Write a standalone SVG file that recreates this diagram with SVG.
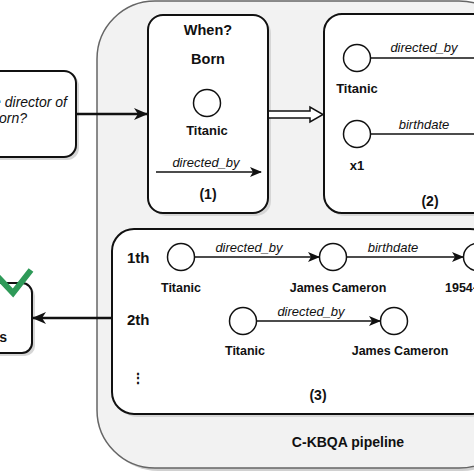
<svg xmlns="http://www.w3.org/2000/svg" width="474" height="474" viewBox="0 0 474 474">
<defs>
<style>
.b{font-family:"Liberation Sans",Arial,sans-serif;font-weight:bold;fill:#111;}
.i{font-family:"Liberation Sans",Arial,sans-serif;font-style:italic;fill:#111;}
.box{fill:#fff;stroke:#111;stroke-width:2;}
.sh{fill:#d6d6d6;}
.node{fill:#fff;stroke:#111;stroke-width:1.5;}
.edge{stroke:#111;stroke-width:1.5;fill:none;}
</style>
<marker id="ah" viewBox="0 0 12 10" refX="11" refY="5" markerWidth="12" markerHeight="10" markerUnits="userSpaceOnUse" orient="auto">
<path d="M0,0 L12,5 L0,10 L3,5 Z" fill="#111"/>
</marker>
<marker id="ahb" viewBox="0 0 14 12" refX="13" refY="6" markerWidth="14" markerHeight="12" markerUnits="userSpaceOnUse" orient="auto">
<path d="M0,0 L14,6 L0,12 L4,6 Z" fill="#111"/>
</marker>
</defs>
<rect width="474" height="474" fill="#fff"/>

<g id="pipeline">
<rect x="100" y="4" width="420" height="467" rx="58" fill="#d0d0d0"/>
<rect x="97" y="1" width="420" height="467" rx="58" fill="#f2f2f2" stroke="#666" stroke-width="1.5"/>
<text class="b" x="348" y="447" font-size="14" text-anchor="middle">C-KBQA pipeline</text>
</g>

<g id="question">
<rect class="sh" x="-17" y="74" width="96" height="86" rx="12"/>
<rect class="box" x="-20" y="71" width="96" height="86" rx="12"/>
<text class="i" x="67" y="107" font-size="14" text-anchor="end">the director of</text>
<text class="i" x="27" y="123" font-size="14" text-anchor="end">Titanic born?</text>
</g>

<g id="answer">
<rect class="sh" x="-37" y="286" width="72" height="70" rx="10"/>
<rect class="box" x="-40" y="283" width="72" height="70" rx="10"/>
<text class="b" x="7" y="342" font-size="14" text-anchor="end">s</text>
<path d="M-2,277 L13,293 L31,270" fill="none" stroke="#2e9a58" stroke-width="6" stroke-linejoin="miter"/>
</g>

<g id="box1">
<rect class="sh" x="151" y="18" width="120" height="198" rx="15"/>
<rect class="box" x="148" y="15" width="120" height="198" rx="15"/>
<text class="b" x="208" y="35" font-size="14.5" text-anchor="middle">When?</text>
<text class="b" x="208" y="64" font-size="14.5" text-anchor="middle">Born</text>
<circle class="node" cx="207" cy="103" r="13.5"/>
<text class="b" x="207" y="135" font-size="13" text-anchor="middle">Titanic</text>
<text class="i" x="206" y="167" font-size="13" text-anchor="middle">directed_by</text>
<line class="edge" x1="156" y1="172" x2="261" y2="172" marker-end="url(#ah)"/>
<text class="b" x="208" y="199" font-size="14" text-anchor="middle">(1)</text>
</g>

<g id="box2">
<rect class="sh" x="327" y="17" width="180" height="199" rx="18"/>
<rect class="box" x="324" y="14" width="180" height="199" rx="18"/>
<circle class="node" cx="357" cy="58" r="13.5"/>
<line class="edge" x1="370" y1="58" x2="480" y2="58"/>
<text class="i" x="424" y="52" font-size="13" text-anchor="middle">directed_by</text>
<text class="b" x="357" y="93" font-size="13" text-anchor="middle">Titanic</text>
<circle class="node" cx="357" cy="134" r="13.5"/>
<line class="edge" x1="370" y1="134" x2="480" y2="134"/>
<text class="i" x="424" y="129" font-size="13" text-anchor="middle">birthdate</text>
<text class="b" x="357" y="170" font-size="13" text-anchor="middle">x1</text>
<text class="b" x="430" y="206" font-size="14" text-anchor="middle">(2)</text>
</g>

<g id="box3">
<rect class="sh" x="115" y="232" width="380" height="185" rx="22"/>
<rect class="box" x="112" y="229" width="380" height="185" rx="22"/>
<text class="b" x="127" y="263" font-size="15">1th</text>
<text class="b" x="127" y="325" font-size="15">2th</text>
<text class="b" x="138" y="383" font-size="14" text-anchor="middle">⋮</text>
<circle class="node" cx="181" cy="257" r="13.5"/>
<line class="edge" x1="195" y1="257" x2="319" y2="257" marker-end="url(#ah)"/>
<text class="i" x="249" y="252" font-size="13" text-anchor="middle">directed_by</text>
<circle class="node" cx="333" cy="257" r="13.5"/>
<line class="edge" x1="347" y1="257" x2="463" y2="257" marker-end="url(#ah)"/>
<text class="i" x="393" y="252" font-size="13" text-anchor="middle">birthdate</text>
<circle class="node" cx="477" cy="257" r="13.5"/>
<text class="b" x="181" y="292" font-size="12.5" text-anchor="middle">Titanic</text>
<text class="b" x="338" y="292" font-size="12.5" text-anchor="middle">James Cameron</text>
<text class="b" x="445" y="292" font-size="12.5">1954-</text>
<circle class="node" cx="243" cy="321" r="13.5"/>
<line class="edge" x1="257" y1="321" x2="380" y2="321" marker-end="url(#ah)"/>
<text class="i" x="311" y="316" font-size="13" text-anchor="middle">directed_by</text>
<circle class="node" cx="394" cy="321" r="13.5"/>
<text class="b" x="245" y="355" font-size="12.5" text-anchor="middle">Titanic</text>
<text class="b" x="400" y="355" font-size="12.5" text-anchor="middle">James Cameron</text>
<text class="b" x="318" y="400" font-size="14" text-anchor="middle">(3)</text>
</g>

<g id="connectors">
<line x1="76" y1="114" x2="147" y2="114" stroke="#111" stroke-width="2.5" marker-end="url(#ahb)"/>
<path d="M269,111 L310,111 L310,107 L323,114.5 L310,122 L310,118 L269,118" fill="#fff" stroke="#111" stroke-width="1.5" stroke-linejoin="miter"/>
<line x1="111" y1="318" x2="33" y2="318" stroke="#111" stroke-width="2.5" marker-end="url(#ahb)"/>
</g>
</svg>
